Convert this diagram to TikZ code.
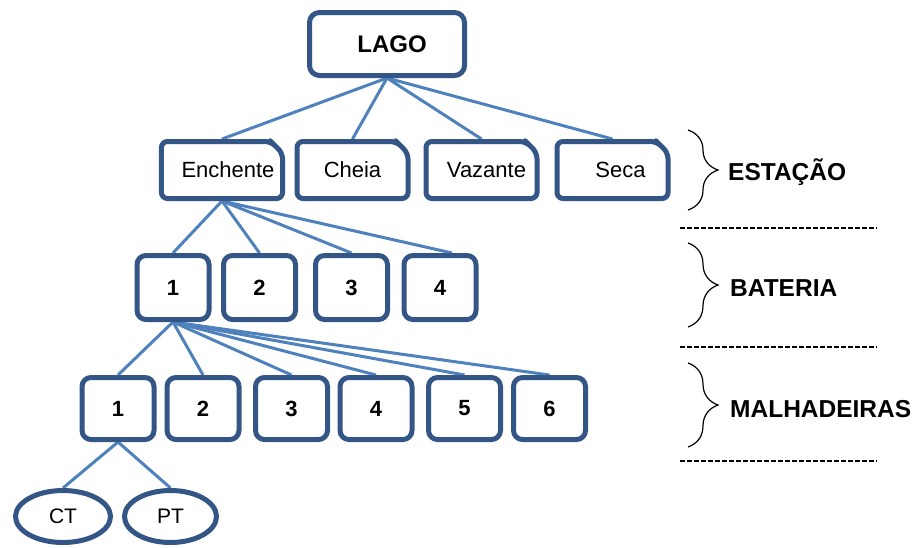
\documentclass[tikz,border=0pt]{standalone}
\usepackage{fontspec}
\setmainfont{Liberation Sans}
\usepackage{tikz}
\usetikzlibrary{shapes.misc,shapes.geometric}
\usetikzlibrary{decorations.pathreplacing,backgrounds}
\definecolor{azulborda}{RGB}{52,86,134}
\definecolor{azulramo}{RGB}{79,129,189}

\begin{document}
\begin{tikzpicture}[x=1pt,y=-1pt,
  caixa/.style={draw=azulborda,line width=5pt,line join=round,fill=white,inner sep=0pt},
  topo/.style={caixa,rectangle,rounded corners=10pt,minimum width=155pt,minimum height=63pt,font=\bfseries\fontsize{24}{28}\selectfont},
  estacao/.style={caixa,chamfered rectangle,chamfered rectangle corners=north east,chamfered rectangle xsep=14pt,rounded corners=6pt,minimum width=111pt,minimum height=57pt,font=\fontsize{22}{26}\selectfont},
  numero/.style={caixa,rectangle,rounded corners=9pt,minimum width=72pt,minimum height=64pt,font=\bfseries\fontsize{22}{26}\selectfont},
  oval/.style={caixa,ellipse,minimum height=52pt,font=\fontsize{21}{25}\selectfont},
  ramo/.style={draw=azulramo,line width=3pt},
  chave/.style={decorate,decoration={brace,amplitude=30pt},line width=1.2pt},
  nivel/.style={anchor=west,inner sep=0pt,font=\bfseries\fontsize{24.5}{28}\selectfont},
  tracejado/.style={line width=2pt,dash pattern=on 5pt off 2pt}]
\useasboundingbox (0,0) rectangle (919,547);
\node[topo] (lago) at (387,44) {\hspace*{10pt}LAGO};
\node[estacao] (enchente) at (222,170) {\hspace*{12pt}Enchente};
\node[estacao] (cheia) at (352.5,170) {Cheia};
\node[estacao] (vazante) at (481.5,170) {\hspace*{10pt}Vazante};
\node[estacao] (seca) at (612.5,170) {\hspace*{16pt}Seca};
\node[numero] (b1) at (173,287.5) {1};
\node[numero] (b2) at (259.5,287.5) {2};
\node[numero] (b3) at (351.5,287.5) {3};
\node[numero] (b4) at (440,287.5) {4};
\node[numero,minimum height=62pt] (m1) at (118,408.5) {1};
\node[numero,minimum height=62pt] (m2) at (203,408.5) {2};
\node[numero,minimum height=62pt] (m3) at (291.5,408.5) {3};
\node[numero,minimum height=62pt] (m4) at (376,408.5) {4};
\node[numero,minimum height=62pt] (m5) at (464.5,408.5) {5};
\node[numero,minimum height=62pt] (m6) at (549.5,408.5) {6};
\node[oval,minimum width=95pt] (ct) at (63,516.5) {CT};
\node[oval,minimum width=92pt] (pt) at (170.5,516.5) {PT};
\begin{scope}[on background layer]
\foreach \f in {enchente,cheia,vazante,seca}
	\draw[ramo] (lago.south) -- (\f.north);
\foreach \f in {b1,b2,b3}
	\draw[ramo] (enchente.south) -- (\f.north);
\draw[ramo] (enchente.south) -- ([xshift=12pt]b4.north);
\foreach \f in {m1,m2,m3,m4,m5,m6}
	\draw[ramo] (b1.south) -- (\f.north);
\foreach \f in {ct,pt}
	\draw[ramo] (m1.south) -- (\f.north);
\end{scope}
\coordinate (e1) at (688,130);
\coordinate (e2) at (688,210);
\coordinate (f1) at (688,243);
\coordinate (f2) at (688,327);
\coordinate (g1) at (688,363);
\coordinate (g2) at (688,447);
\draw[chave] (e1) -- (e2);
\draw[chave] (f1) -- (f2);
\draw[chave] (g1) -- (g2);
\node[nivel] (lestacao) at (728,172) {ESTAÇÃO};
\node[nivel] (lbateria) at (730,288) {BATERIA};
\node[nivel] (lmalha) at (730,409) {MALHADEIRAS};
\coordinate (t1a) at (680,228);
\coordinate (t1b) at (877,228);
\coordinate (t2a) at (680,347);
\coordinate (t2b) at (877,347);
\coordinate (t3a) at (680,461);
\coordinate (t3b) at (877,461);
\draw[tracejado] (t1a) -- (t1b);
\draw[tracejado] (t2a) -- (t2b);
\draw[tracejado] (t3a) -- (t3b);
\end{tikzpicture}
\end{document}
